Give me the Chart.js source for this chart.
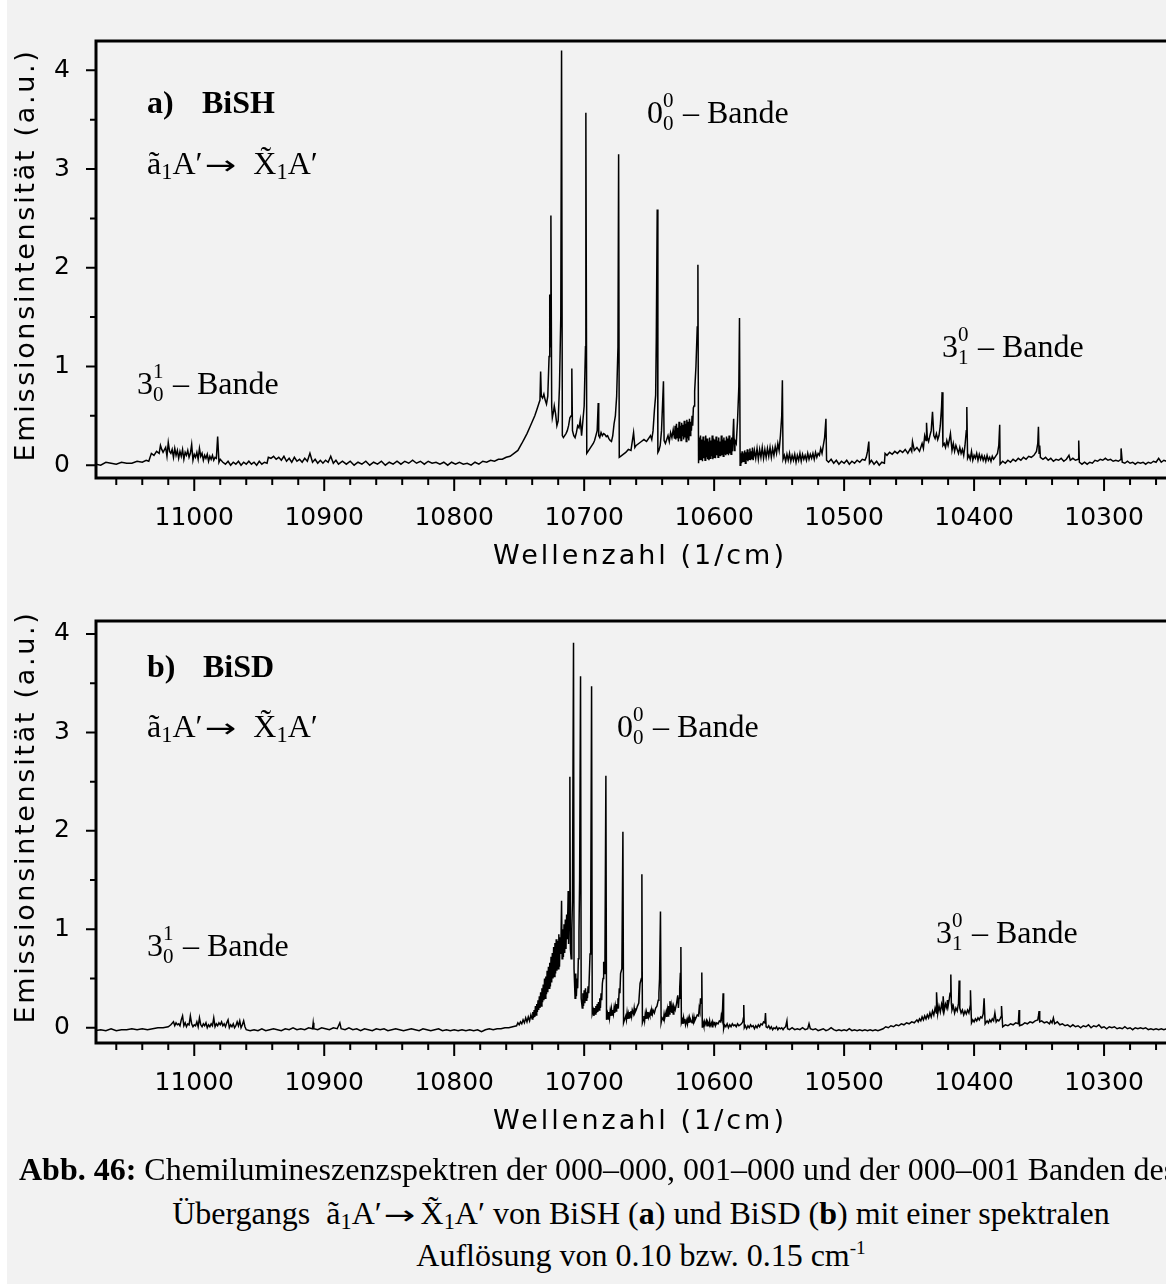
<!DOCTYPE html>
<html>
<head>
<meta charset="utf-8">
<script src="https://cdn.jsdelivr.net/npm/chart.js@4.4.1/dist/chart.umd.min.js"></script>
<style>
  html, body { margin: 0; padding: 0; background: #fff; }
  body { width: 1166px; height: 1286px; overflow: hidden; position: relative; }
  #page { position: absolute; left: 7px; top: 0; width: 1159px; height: 1284px; background: #f2f2f2; }
  .plot { position: absolute; left: 0; }
  .ann { position: absolute; font-family: 'Liberation Serif', 'Times New Roman', serif; font-size: 32px; line-height: 32px; white-space: nowrap; color: #000; }
  .ann sub, .cap sub { font-size: 0.7em; vertical-align: -0.22em; line-height: 0; }
  .arr { display: inline-block; font-family: 'DejaVu Sans', sans-serif; font-size: 26px; transform: scaleX(1.45); margin: 0 22px 0 7px; }
  .st { position: relative; display: inline-block; width: 12px; height: 0; }
  .st span { position: absolute; left: 0; font-size: 21px; line-height: 20px; }
  .st .sp { top: -33px; }
  .st .sb { top: -10px; }
  .ytitle { position: absolute; width: 460px; height: 34px; line-height: 34px; text-align: center; transform: rotate(-90deg);
            font-family: 'DejaVu Sans', sans-serif; font-size: 27px; letter-spacing: 2.7px; color: #000; white-space: nowrap; }
  .xtitle { position: absolute; width: 600px; height: 34px; line-height: 34px; text-align: center;
            font-family: 'DejaVu Sans', sans-serif; font-size: 27px; letter-spacing: 3px; color: #000; white-space: nowrap; }
  .cap { position: absolute; font-family: 'Liberation Serif', 'Times New Roman', serif; font-size: 32px; line-height: 32px; white-space: nowrap; color: #000; }
  .cap sup { font-size: 0.6em; vertical-align: 0.6em; line-height: 0; }
</style>
</head>
<body>
<div id="page"></div>
<canvas id="chartA" class="plot" width="1190" height="580" style="top:0"></canvas>
<canvas id="chartB" class="plot" width="1190" height="580" style="top:580px"></canvas>

<div class="ytitle" style="left:-205px;top:238px">Emissionsintensität (a.u.)</div>
<div class="xtitle" style="left:340px;top:538px">Wellenzahl (1/cm)</div>
<div class="ytitle" style="left:-205px;top:800px">Emissionsintensität (a.u.)</div>
<div class="xtitle" style="left:340px;top:1103px">Wellenzahl (1/cm)</div>

<div class="ann" style="left:147px;top:86px;font-weight:bold">a)</div>
<div class="ann" style="left:202px;top:86px;font-weight:bold">BiSH</div>
<div class="ann" style="left:147px;top:147px">ã<sub>1</sub>A′<span class="arr">→</span>X̃<sub>1</sub>A′</div>
<div class="ann" style="left:647px;top:96px">0<span class="st"><span class="sp">0</span><span class="sb">0</span></span> – Bande</div>
<div class="ann" style="left:137px;top:367px">3<span class="st"><span class="sp">1</span><span class="sb">0</span></span> – Bande</div>
<div class="ann" style="left:942px;top:330px">3<span class="st"><span class="sp">0</span><span class="sb">1</span></span> – Bande</div>

<div class="ann" style="left:147px;top:650px;font-weight:bold">b)</div>
<div class="ann" style="left:203px;top:650px;font-weight:bold">BiSD</div>
<div class="ann" style="left:147px;top:710px">ã<sub>1</sub>A′<span class="arr">→</span>X̃<sub>1</sub>A′</div>
<div class="ann" style="left:617px;top:710px">0<span class="st"><span class="sp">0</span><span class="sb">0</span></span> – Bande</div>
<div class="ann" style="left:147px;top:929px">3<span class="st"><span class="sp">1</span><span class="sb">0</span></span> – Bande</div>
<div class="ann" style="left:936px;top:916px">3<span class="st"><span class="sp">0</span><span class="sb">1</span></span> – Bande</div>

<div class="cap" style="left:19px;top:1153px"><b>Abb. 46:</b> Chemilumineszenzspektren der 000–000, 001–000 und der 000–001 Banden des</div>
<div class="cap" style="left:141px;width:1000px;text-align:center;top:1197px">Übergangs &nbsp;ã<sub>1</sub>A′<span class="arr" style="margin-right:10px">→</span>X̃<sub>1</sub>A′ von BiSH (<b>a</b>) und BiSD (<b>b</b>) mit einer spektralen</div>
<div class="cap" style="left:141px;width:1000px;text-align:center;top:1239px">Auflösung von 0.10 bzw. 0.15 cm<sup>-1</sup></div>

<script>
// wavenumber range shown (axis is reversed: high values on the left)
const xRange = [10238.5, 11075.6];
const xMajorStep = 100;
const xMinorStep = 20;
const yMajorStep = 1;
const yMinorStep = 0.5;

// ---- BiSH spectrum, [wavenumber, intensity] ----
// 3_0^1 band and flat region
const bishLow = [
  [11076,0.01],[11072,0.00],[11068,0.03],[11064,0.02],[11060,0.01],[11056,0.03],[11052,0.02],[11048,0.02],
  [11044,0.04],[11040,0.03],[11037,0.05],[11035,0.04],[11033,0.12],[11031,0.10],[11029,0.14],[11027,0.12],
  [11026,0.20],[11025,0.16],[11024,0.13],[11022,0.18],[11021,0.09],[11020,0.23],[11019,0.14],[11018,0.12],
  [11017,0.16],[11016,0.08],[11015,0.17],[11014,0.10],[11013,0.15],[11012,0.07],[11011,0.14],[11010,0.09],
  [11009,0.16],[11008,0.06],[11007,0.13],[11006,0.10],[11005,0.15],[11004,0.08],[11003,0.12],[11002,0.21],
  [11001,0.05],[11000,0.11],[10999,0.08],[10998,0.13],[10997,0.06],[10996,0.17],[10995,0.09],[10994,0.12],
  [10993,0.05],[10992,0.10],[10991,0.07],[10990,0.11],[10989,0.04],[10988,0.09],[10987,0.06],[10986,0.10],
  [10985,0.05],[10984,0.08],[10983,0.07],[10982,0.29],[10981,0.03],[10980,0.06],[10978,0.03],[10976,0.01],
  [10974,0.04],[10972,0.00],[10970,0.03],[10968,0.01],[10966,0.04],[10964,0.00],[10962,0.03],[10960,0.01],
  [10958,0.04],[10956,0.01],[10954,0.03],[10952,0.00],[10950,0.04],[10948,0.01],[10946,0.03],[10944,0.02],
  [10943,0.08],[10941,0.07],[10939,0.09],[10937,0.06],[10935,0.08],[10933,0.05],[10931,0.09],[10929,0.04],
  [10927,0.07],[10925,0.03],[10923,0.08],[10921,0.04],[10919,0.06],[10917,0.03],[10915,0.07],[10913,0.04],
  [10911,0.12],[10909,0.03],[10907,0.06],[10905,0.02],[10903,0.05],[10901,0.02],[10899,0.05],[10897,0.03],
  [10895,0.09],[10893,0.02],[10891,0.05],[10889,0.01],[10886,0.04],[10883,0.01],[10880,0.04],[10877,0.00],
  [10874,0.03],[10871,0.01],[10868,0.04],[10865,0.00],[10862,0.03],[10859,0.01],[10856,0.04],[10853,0.00],
  [10850,0.03],[10847,0.01],[10844,0.04],[10841,0.01],[10838,0.04],[10835,0.02],[10832,0.05],[10829,0.02],
  [10826,0.04],[10823,0.01],[10820,0.04],[10817,0.02],[10814,0.03],[10811,0.01],[10808,0.03],[10805,0.00],
  [10802,0.03],[10799,0.01],[10796,0.03],[10793,0.01],[10790,0.02],[10787,0.00],[10784,0.03],[10781,0.01],
  [10778,0.04]
];
// 0_0^0 band
const bishMain = [
  [10775,0.03],[10772,0.05],[10769,0.04],[10766,0.06],[10763,0.06],[10760,0.08],[10757,0.09],[10754,0.12],
  [10751,0.15],[10748,0.22],[10746,0.27],[10744,0.32],[10742,0.38],[10740,0.44],[10738,0.50],[10736.5,0.56],
  [10735,0.62],[10734,0.66],[10733.5,0.95],[10733,0.70],[10732,0.68],[10731,0.72],[10730,0.66],[10729,0.62],
  [10728,0.70],[10727,1.10],[10726.5,1.73],[10726,1.20],[10725.6,2.53],[10725,0.60],[10724.5,0.48],[10723.5,0.55],
  [10723,0.60],[10722,0.52],[10721,0.40],[10720,0.45],[10719,0.80],[10718,1.50],[10717.4,4.20],[10716.8,0.30],
  [10716,0.28],[10715,0.30],[10714,0.32],[10713,0.35],[10712,0.40],[10711,0.48],[10710,0.50],[10709.5,0.98],
  [10709,0.35],[10708,0.30],[10707,0.28],[10706,0.33],[10705,0.40],[10704,0.38],[10703,0.46],[10702,0.30],
  [10701,0.45],[10700,0.60],[10699,1.20],[10698.7,3.57],[10698,0.12],[10697,0.14],[10696,0.16],[10695,0.18],
  [10694,0.20],[10693,0.22],[10692,0.25],[10691,0.30],[10690,0.35],[10689.2,0.63],[10688.8,0.30],[10688,0.28],
  [10687,0.33],[10686,0.30],[10685,0.32],[10684,0.31],[10683,0.29],[10682,0.30],[10681,0.27],[10680,0.25],
  [10679,0.24],[10678,0.30],[10677,0.42],[10676,0.50],[10675,0.70],[10674,1.20],[10673.5,3.15],[10673,0.08],
  [10672,0.09],[10670,0.11],[10668,0.13],[10666,0.16],[10664,0.15],[10662,0.33],[10661,0.18],[10660,0.20],
  [10658,0.22],[10656,0.24],[10654,0.26],[10652,0.24],[10650,0.28],[10649,0.30],[10648,0.26],[10647,0.35],
  [10646,0.55],[10645,0.71],[10644.5,1.30],[10643.8,2.59],[10643.3,0.13],[10642.5,0.15],[10641.5,0.20],[10640.5,0.35],
  [10639,0.85],[10638.5,0.25],[10637.5,0.22],[10636.5,0.26],[10635.5,0.30],[10634.5,0.24],[10633.5,0.33],[10632.5,0.28],
  [10631.5,0.36],[10630.5,0.27],[10630,0.40],[10629.5,0.26],[10629,0.42],[10628.5,0.28],[10628,0.38],[10627.5,0.24],
  [10627,0.44],[10626.5,0.27],[10626,0.40],[10625.5,0.25],[10625,0.43],[10624.5,0.30],[10624,0.41],[10623.5,0.26],
  [10623,0.45],[10622.5,0.28],[10622,0.42],[10621.5,0.24],[10621,0.46],[10620.5,0.27],[10620,0.44],[10619.5,0.25],
  [10619,0.47],[10618.5,0.30],[10618,0.44],[10617.5,0.35],[10617,0.50],[10616.5,0.40],[10616,0.58],[10615.5,0.60],
  [10615,0.75],[10614,1.00],[10613,1.40],[10612.5,2.03],[10612,0.02],[10611.5,0.28],[10611,0.05],[10610.5,0.30],
  [10610,0.06],[10609.5,0.26],[10609,0.04],[10608.5,0.29],[10608,0.07],[10607.5,0.25],[10607,0.05],[10606.5,0.30],
  [10606,0.08],[10605.5,0.27],[10605,0.06],[10604.5,0.24],[10604,0.05],[10603.5,0.28],[10603,0.07],[10602.5,0.25],
  [10602,0.09],[10601.5,0.30],[10601,0.06],[10600.5,0.27],[10600,0.08],[10599.5,0.26],[10599,0.07],[10598.5,0.29],
  [10598,0.10],[10597.5,0.25],[10597,0.08],[10596.5,0.28],[10596,0.10],[10595.5,0.24],[10595,0.09],[10594.5,0.30],
  [10594,0.10],[10593.5,0.26],[10593,0.09],[10592.5,0.28],[10592,0.11],[10591.5,0.25],[10591,0.10],[10590.5,0.29],
  [10590,0.12],[10589.5,0.27],[10589,0.10],[10588.5,0.30],[10588,0.12],[10587.5,0.26],[10587,0.11],[10586.5,0.28],
  [10586,0.14],[10585,0.47],[10584.5,0.15],[10584,0.25],[10583,0.22],[10582,0.45],[10581,0.80],[10580.5,1.49],
  [10580,0.00],[10579.5,0.12],[10579,0.02],[10578.5,0.14],[10578,0.03],[10577.5,0.12],[10577,0.04],[10576.5,0.15],
  [10576,0.02],[10575.5,0.13],[10575,0.05],[10574.5,0.16],[10574,0.04],[10573.5,0.13],[10573,0.06],[10572.5,0.17],
  [10572,0.05],[10571.5,0.14],[10571,0.06],[10570.5,0.18],[10570,0.05],[10569,0.15],[10568,0.07],[10567,0.17],
  [10566,0.06],[10565,0.16],[10564,0.08],[10563,0.18],[10562,0.07],[10561,0.16],[10560,0.08],[10559,0.17],
  [10558,0.09],[10557,0.18],[10556,0.08],[10555,0.17],[10554,0.10],[10553,0.19],[10552,0.12],[10551,0.22],
  [10550,0.15],[10549,0.30],[10548,0.50]
];
// 3_1^0 band and right tail
const bishTail = [
  [10547.5,0.86],[10547,0.06],[10546,0.10],[10545,0.04],[10544,0.11],[10543,0.05],[10542,0.12],[10541,0.04],
  [10540,0.10],[10539,0.05],[10538,0.11],[10537,0.03],[10536,0.10],[10535,0.05],[10534,0.12],[10533,0.04],
  [10532,0.11],[10531,0.06],[10530,0.10],[10529,0.05],[10528,0.12],[10527,0.06],[10526,0.11],[10525,0.07],
  [10524,0.12],[10523,0.06],[10522,0.13],[10521,0.08],[10520,0.12],[10519,0.10],[10518,0.17],[10517,0.12],
  [10516,0.20],[10515,0.28],[10514,0.47],[10513.5,0.05],[10512,0.03],[10510,0.06],[10508,0.02],[10506,0.05],
  [10504,0.01],[10502,0.04],[10500,0.02],[10498,0.05],[10496,0.01],[10494,0.04],[10492,0.02],[10490,0.05],
  [10488,0.03],[10486,0.06],[10484,0.05],[10483,0.08],[10482,0.14],[10481,0.24],[10480.5,0.02],[10479,0.05],
  [10477,0.01],[10475,0.04],[10473,0.00],[10471,0.03],[10469,0.02],[10468.5,0.12],[10467,0.10],[10465,0.13],
  [10463,0.11],[10461,0.14],[10459,0.12],[10457,0.15],[10455,0.13],[10453,0.16],[10451,0.12],[10449,0.17],
  [10448,0.14],[10447.4,0.24],[10446,0.15],[10444,0.18],[10442,0.14],[10440,0.22],[10439,0.17],[10438,0.30],
  [10437,0.25],[10436.6,0.43],[10436,0.28],[10435,0.24],[10434,0.30],[10433,0.35],[10432,0.54],[10431,0.30],
  [10430,0.27],[10429,0.32],[10428,0.26],[10427,0.30],[10426,0.40],[10425,0.60],[10424.6,0.74],[10424,0.20],
  [10423,0.22],[10422,0.18],[10421,0.25],[10420,0.20],[10419,0.26],[10418.2,0.32],[10417,0.15],[10416,0.22],
  [10415,0.14],[10414,0.20],[10413,0.16],[10412,0.12],[10411,0.18],[10410,0.12],[10409,0.16],[10408,0.10],
  [10407,0.20],[10406,0.35],[10405.6,0.59],[10405,0.07],[10404,0.10],[10403,0.06],[10402,0.14],[10401,0.05],
  [10400,0.10],[10399,0.07],[10398,0.12],[10397,0.05],[10396,0.11],[10395,0.06],[10394,0.10],[10393,0.05],
  [10392,0.09],[10391,0.04],[10390,0.10],[10389,0.05],[10388,0.08],[10387,0.04],[10386,0.09],[10385,0.06],
  [10384,0.08],[10383,0.10],[10382,0.12],[10381,0.20],[10380.3,0.41],[10380,0.01],[10378,0.04],[10376,0.02],
  [10374,0.05],[10372,0.03],[10370,0.06],[10368,0.04],[10366,0.07],[10364,0.05],[10362,0.08],[10360,0.06],
  [10358,0.09],[10356,0.08],[10354,0.10],[10352,0.14],[10351,0.22],[10350.5,0.39],[10350,0.12],[10349.5,0.20],
  [10349,0.08],[10347,0.06],[10345,0.08],[10343,0.05],[10341,0.07],[10339,0.04],[10337,0.06],[10335,0.05],
  [10333,0.07],[10331,0.04],[10329,0.06],[10327,0.10],[10326,0.05],[10324,0.07],[10322,0.05],[10320,0.06],
  [10319.5,0.25],[10319,0.03],[10317,0.01],[10315,0.03],[10313,0.01],[10311,0.03],[10309,0.02],[10307,0.05],
  [10305,0.04],[10303,0.06],[10301,0.05],[10299,0.07],[10297,0.05],[10295,0.06],[10293,0.04],[10291,0.05],
  [10289,0.04],[10287,0.06],[10286.9,0.17],[10286,0.03],[10284,0.02],[10282,0.04],[10280,0.02],[10278,0.03],
  [10276,0.01],[10274,0.03],[10272,0.02],[10270,0.03],[10268,0.01],[10266,0.03],[10264,0.02],[10262,0.04],
  [10260,0.03],[10258,0.07],[10256,0.03],[10254,0.05],[10252,0.04],[10250,0.03],[10246,0.05],[10242,0.03],
  [10238,0.04]
];

// ---- BiSD spectrum, [wavenumber, intensity] ----
const bisdLow = [
  [11076,-0.03],[11072,-0.02],[11068,-0.03],[11064,-0.01],[11060,-0.03],[11056,-0.02],[11052,-0.02],[11048,-0.01],
  [11044,-0.02],[11040,-0.01],[11036,-0.02],[11032,-0.01],[11028,0.00],[11024,0.00],[11020,0.01],[11018,0.03],
  [11016,0.06],[11015,0.02],[11014,0.05],[11013,0.03],[11012,0.04],[11011,0.02],[11010,0.08],[11009,0.12],
  [11008,0.02],[11007,0.05],[11006,0.01],[11005,0.04],[11004,0.03],[11003,0.12],[11002,0.04],[11001,0.01],
  [11000,0.03],[10999,0.02],[10998,0.06],[10997,0.01],[10996,0.10],[10995,0.03],[10994,0.01],[10993,0.04],
  [10992,0.02],[10991,0.05],[10990,0.00],[10989,0.03],[10988,0.01],[10987,0.04],[10986,0.02],[10985,0.10],
  [10984,0.01],[10983,0.04],[10982,0.02],[10981,0.05],[10980,0.03],[10979,0.06],[10978,0.02],[10977,0.04],
  [10976,0.01],[10975,0.05],[10974,0.08],[10973,0.00],[10972,0.03],[10971,0.01],[10970,0.04],[10969,0.00],
  [10968,0.02],[10967,0.06],[10966,0.02],[10965,0.07],[10964,0.00],[10963,0.03],[10962,0.07],[10961,0.01],
  [10960,-0.02],[10957,-0.03],[10954,-0.02],[10951,-0.03],[10948,-0.01],[10945,-0.03],[10942,-0.02],[10939,-0.01],
  [10936,-0.02],[10933,-0.03],[10930,-0.01],[10927,-0.02],[10924,0.00],[10921,-0.02],[10918,-0.01],[10915,-0.02],
  [10912,0.00],[10909,-0.01],[10908.5,0.05],[10908,-0.01],[10905,-0.02],[10902,0.00],[10899,-0.01],[10896,-0.02],
  [10893,0.00],[10890,-0.01],[10888,0.05],[10887,-0.01],[10884,-0.02],[10881,0.00],[10878,-0.02],[10875,-0.01],
  [10872,-0.03],[10869,-0.01],[10866,-0.02],[10863,-0.03],[10860,-0.01],[10857,-0.02],[10854,-0.01],[10851,-0.03],
  [10848,-0.02],[10845,-0.01],[10842,-0.02],[10839,-0.03],[10836,-0.02],[10833,-0.01],[10830,-0.02],[10827,-0.03],
  [10824,-0.01],[10821,-0.02],[10818,-0.03],[10815,-0.02],[10812,-0.01],[10809,-0.03],[10806,-0.02],[10803,-0.03],
  [10800,-0.02],[10797,-0.03],[10794,-0.02],[10791,-0.03],[10788,-0.02],[10785,-0.03],[10782,-0.02],[10779,-0.04],
  [10776,-0.02],[10773,-0.01],[10770,-0.02],[10767,-0.01],[10764,-0.01],[10761,0.00],[10758,0.00],[10755,0.01]
];
const bisdMain = [
  [10752,0.02],[10751,0.05],[10750,0.03],[10749,0.06],[10748,0.04],[10747,0.08],[10746,0.05],[10745,0.10],
  [10744,0.06],[10743,0.11],[10742,0.07],[10741,0.13],[10740,0.09],[10739.5,0.16],[10739,0.10],[10738.5,0.18],
  [10738,0.11],[10737.5,0.22],[10737,0.13],[10736.5,0.24],[10736,0.16],[10735.5,0.28],[10735,0.18],[10734.5,0.32],
  [10734,0.20],[10733.5,0.36],[10733,0.22],[10732.5,0.40],[10732,0.26],[10731.5,0.44],[10731,0.28],[10730.5,0.50],
  [10730,0.30],[10729.5,0.52],[10729,0.34],[10728.5,0.58],[10728,0.36],[10727.5,0.62],[10727,0.40],[10726.5,0.66],
  [10726,0.42],[10725.5,0.72],[10725,0.46],[10724.5,0.76],[10724,0.50],[10723.5,0.82],[10723,0.52],[10722.5,0.86],
  [10722,0.55],[10721.5,0.90],[10721,0.58],[10720.5,0.88],[10720,0.60],[10719.5,0.95],[10719,0.62],[10718.5,0.92],
  [10718,0.75],[10717.4,1.29],[10717,0.70],[10716.5,1.00],[10716,0.72],[10715.5,1.05],[10715,0.76],[10714.5,1.10],
  [10714,0.80],[10713.5,1.15],[10713,0.90],[10712.3,1.39],[10712,0.85],[10711.5,1.20],[10711,2.55],[10710.6,0.80],
  [10710,0.70],[10709.5,1.00],[10709,1.30],[10708.2,3.91],[10707.8,0.60],[10707,0.30],[10706.5,0.55],[10706,0.32],
  [10705.5,0.50],[10705,0.40],[10704.5,0.70],[10704,0.97],[10703.5,1.50],[10702.8,3.57],[10702.3,0.30],[10701.5,0.20],
  [10701,0.35],[10700.5,0.22],[10700,0.38],[10699.5,0.25],[10699,0.40],[10698.5,0.28],[10698,0.36],[10697.5,0.30],
  [10697,0.42],[10696.5,0.35],[10696,0.55],[10695.5,0.75],[10695,0.95],[10694.3,3.47],[10693.8,0.14],[10693,0.18],
  [10692.5,0.12],[10692,0.20],[10691.5,0.14],[10691,0.22],[10690.5,0.15],[10690,0.24],[10689.5,0.16],[10689,0.26],
  [10688.5,0.18],[10688,0.30],[10687.5,0.20],[10687,0.35],[10686.5,0.28],[10686,0.45],[10685.5,0.50],[10685,0.67],
  [10684.5,0.55],[10684,0.72],[10683.3,2.56],[10682.8,0.08],[10682,0.14],[10681.5,0.09],[10681,0.16],[10680.5,0.10],
  [10680,0.17],[10679.5,0.12],[10679,0.19],[10678.5,0.13],[10678,0.18],[10677.5,0.14],[10677,0.20],[10676.5,0.15],
  [10676,0.22],[10675.5,0.17],[10675,0.24],[10674.5,0.20],[10674,0.30],[10673.5,0.26],[10673,0.40],[10672.5,0.35],
  [10672,0.55],[10671,0.60],[10670.2,1.99],[10669.7,0.05],[10669,0.08],[10668,0.12],[10667.5,0.08],[10667,0.15],
  [10666.5,0.09],[10666,0.14],[10665.5,0.10],[10665,0.16],[10664.5,0.11],[10664,0.17],[10663.5,0.12],[10663,0.18],
  [10662,0.14],[10661.5,0.20],[10661,0.15],[10660,0.18],[10659,0.22],[10658,0.25],[10657.5,0.35],[10657,0.45],
  [10656,0.50],[10655.6,1.56],[10655.2,0.05],[10654.5,0.08],[10654,0.12],[10653.5,0.07],[10653,0.14],[10652.5,0.09],
  [10652,0.15],[10651.5,0.10],[10651,0.16],[10650.5,0.11],[10650,0.14],[10649.5,0.12],[10649,0.16],[10648.5,0.13],
  [10648,0.17],[10647.5,0.14],[10647,0.18],[10646,0.15],[10645,0.20],[10644,0.22],[10643,0.28],[10642.5,0.35],
  [10642,0.50],[10641.3,1.18],[10640.8,0.05],[10640,0.10],[10639,0.08],[10638.5,0.14],[10638,0.10],[10637,0.16],
  [10636.5,0.11],[10636,0.18],[10635.5,0.12],[10635,0.22],[10634.5,0.14],[10634,0.27],[10633.5,0.16],[10633,0.22],
  [10632.5,0.15],[10632,0.20],[10631.5,0.14],[10631,0.22],[10630,0.18],[10629,0.24],[10628,0.33],[10627.5,0.20],
  [10627,0.30],[10626.5,0.40],[10626,0.55],[10625.6,0.82],[10625.2,0.05],[10624.5,0.08],[10624,0.04],[10623.5,0.10],
  [10623,0.05],[10622.5,0.09],[10622,0.03],[10621,0.08],[10620.5,0.04],[10620,0.09],[10619.5,0.05],[10619,0.10],
  [10618.5,0.06],[10618,0.08],[10617,0.05],[10616.5,0.09],[10616,0.06],[10615.5,0.11],[10615,0.07],[10614,0.10],
  [10613,0.13],[10612,0.12],[10611.5,0.20],[10611,0.17],[10610.5,0.30],[10610,0.25],[10609.5,0.56],[10609.1,0.00],
  [10608.5,0.05],[10608,0.02],[10607.5,0.06],[10607,0.03],[10606,0.07],[10605.5,0.02],[10605,0.06],[10604,0.03],
  [10603.5,0.07],[10603,0.02],[10602,0.05],[10601.5,0.01],[10601,0.06],[10600,0.03],[10599.5,0.06],[10599,0.02],
  [10598,0.05],[10597,0.04],[10596,0.07],[10595,0.06],[10594.5,0.12],[10594,0.09],[10593.5,0.20],[10593.1,0.35],
  [10592.7,-0.01],[10592,0.03],[10591,0.01],[10590,0.04],[10589,0.00],[10588,0.03],[10587,0.01],[10586,0.04],
  [10585,0.02],[10584,0.03],[10583,0.01],[10582,0.04],[10581,0.02],[10580,0.03],[10579,0.04],[10578,0.06],
  [10577.5,0.10],[10577.2,0.23],[10576.8,0.00],[10576,0.02],[10575,-0.01],[10574,0.02],[10573,0.00],[10572,0.03],
  [10571,0.01],[10570,0.02],[10569,-0.01],[10568,0.02],[10567,0.00],[10566,0.03],[10565,0.01],[10564,0.04],
  [10563,0.03],[10562,0.06],[10561,0.05],[10560.5,0.15],[10560,0.01],[10559,0.00],[10558,0.02],[10557,-0.01],
  [10556,0.01],[10555,-0.02],[10554,0.00],[10553,-0.01],[10552,0.01],[10551,-0.02],[10550,0.00],[10549,-0.01]
];
const bisdTail = [
  [10548,0.00],[10547,-0.02],[10546,0.00],[10545,0.01],[10544,0.07],[10543.5,-0.01],[10542,-0.02],[10540,0.00],
  [10538,-0.02],[10536,-0.01],[10534,-0.02],[10532,0.00],[10530,-0.02],[10528,-0.01],[10527,0.04],[10526,-0.01],
  [10524,-0.02],[10522,-0.01],[10520,-0.03],[10518,-0.02],[10516,-0.01],[10514,-0.03],[10512,-0.02],[10510,0.00],
  [10508,-0.02],[10506,-0.03],[10504,-0.02],[10502,-0.03],[10500,-0.02],[10498,-0.03],[10496,-0.01],[10494,-0.03],
  [10492,-0.02],[10490,-0.03],[10488,-0.02],[10486,-0.03],[10484,-0.02],[10482,-0.03],[10480,-0.02],[10478,-0.03],
  [10476,-0.02],[10474,-0.03],[10472,-0.02],[10470,-0.01],[10468,0.01],[10466,0.00],[10464,0.02],[10462,0.01],
  [10460,0.03],[10458,0.02],[10456,0.04],[10454,0.03],[10452,0.05],[10450,0.04],[10448,0.06],[10446,0.05],
  [10444,0.08],[10443,0.06],[10442,0.09],[10441,0.07],[10440,0.11],[10439,0.08],[10438,0.12],[10437,0.09],
  [10436,0.13],[10435,0.10],[10434,0.15],[10433,0.11],[10432,0.17],[10431,0.13],[10430,0.20],[10429,0.15],
  [10428.9,0.36],[10428,0.14],[10427,0.22],[10426,0.16],[10425,0.24],[10424,0.18],[10423.8,0.32],[10423,0.17],
  [10422,0.24],[10421,0.20],[10420.5,0.28],[10420,0.22],[10419,0.30],[10418.5,0.35],[10417.9,0.54],[10417.5,0.25],
  [10417,0.18],[10416,0.22],[10415,0.15],[10414,0.20],[10413,0.17],[10412,0.25],[10411.5,0.48],[10411,0.20],
  [10410,0.15],[10409,0.18],[10408,0.13],[10407,0.17],[10406,0.14],[10405,0.18],[10404,0.15],[10403,0.22],
  [10402.8,0.38],[10402,0.05],[10401,0.08],[10400,0.06],[10399,0.09],[10398,0.07],[10397,0.10],[10396,0.08],
  [10395,0.11],[10394,0.10],[10393,0.14],[10392.3,0.30],[10391.5,0.04],[10390,0.07],[10389,0.05],[10388,0.08],
  [10387,0.06],[10386,0.09],[10385,0.07],[10384,0.15],[10383,0.06],[10382,0.08],[10381,0.07],[10380,0.09],
  [10379,0.12],[10378.9,0.22],[10378,0.01],[10376,0.03],[10374,0.02],[10372,0.04],[10370,0.03],[10368,0.05],
  [10366,0.04],[10365.4,0.18],[10365,0.02],[10363,0.03],[10361,0.05],[10359,0.04],[10357,0.06],[10355,0.05],
  [10353,0.07],[10351,0.08],[10350.5,0.12],[10350,0.17],[10349.5,0.06],[10348,0.07],[10346,0.05],[10344,0.06],
  [10342,0.04],[10341,0.07],[10340,0.05],[10339,0.10],[10338,0.04],[10336,0.06],[10334,0.03],[10332,0.04],
  [10330,0.02],[10328,0.03],[10326,0.01],[10324,0.03],[10322,0.01],[10320,0.02],[10318,0.00],[10316,0.02],
  [10314,0.01],[10312,0.03],[10310,0.00],[10308,0.02],[10306,0.01],[10304,0.03],[10302,0.00],[10300,0.01],
  [10298,-0.01],[10296,0.01],[10294,0.00],[10292,0.01],[10290,-0.01],[10288,0.00],[10286,-0.01],[10284,0.01],
  [10282,-0.01],[10280,0.00],[10278,-0.02],[10276,0.00],[10274,-0.01],[10272,0.00],[10270,-0.01],[10268,0.00],
  [10266,-0.02],[10264,-0.01],[10262,-0.02],[10260,-0.01],[10258,-0.02],[10256,-0.01],[10254,-0.02],[10252,-0.01],
  [10250,-0.02],[10246,-0.01],[10242,-0.02],[10238,-0.01]
];

const bishSpectrum = [...bishLow, ...bishMain, ...bishTail];
const bisdSpectrum = [...bisdLow, ...bisdMain, ...bisdTail];

// --- frame and tick marks drawn from the chart scales ---
const frameTicks = {
  id: 'frameTicks',
  afterDatasetsDraw(chart) {
    const { ctx, chartArea: a, scales: { x, y } } = chart;
    ctx.save();
    ctx.strokeStyle = '#000';
    ctx.lineWidth = 2;
    ctx.beginPath();
    for (let v = Math.ceil(x.min / xMinorStep) * xMinorStep; v <= x.max; v += xMinorStep) {
      const px = x.getPixelForValue(v);
      const len = v % xMajorStep === 0 ? 13 : 7;
      ctx.moveTo(px, a.bottom);
      ctx.lineTo(px, a.bottom + len);
    }
    for (let v = Math.ceil(y.min / yMinorStep) * yMinorStep; v <= y.max; v += yMinorStep) {
      const py = y.getPixelForValue(v);
      const len = Math.abs(v % yMajorStep) < 1e-9 ? 10 : 6;
      ctx.moveTo(a.left, py);
      ctx.lineTo(a.left - len, py);
    }
    ctx.stroke();
    ctx.lineWidth = 3;
    ctx.strokeRect(a.left, a.top, a.right - a.left, a.bottom - a.top);
    ctx.restore();
  }
};

const tickFont = { family: 'DejaVu Sans', size: 25 };

const makePanel = (id, points, yMin, yMax, padTop, xAxisHeight) => {
  const ctx = document.getElementById(id);
  return new Chart(ctx, {
    type: 'line',
    data: {
      datasets: [{
        data: points.map(([wn, v]) => ({ x: wn, y: v })),
        borderColor: '#000',
        borderWidth: 1.5,
        pointRadius: 0,
        tension: 0,
        fill: false
      }]
    },
    options: {
      responsive: false,
      animation: false,
      events: [],
      layout: { padding: { top: padTop, right: 6, left: 0, bottom: 0 } },
      plugins: { legend: { display: false }, tooltip: { enabled: false } },
      scales: {
        x: {
          type: 'linear',
          reverse: true,
          min: xRange[0],
          max: xRange[1],
          grid: { display: false, drawTicks: false },
          border: { display: false },
          ticks: {
            stepSize: xMajorStep, includeBounds: false, autoSkip: false, maxRotation: 0,
            padding: 25, color: '#000', font: tickFont,
            callback: v => String(v)
          },
          afterFit: s => { s.height = xAxisHeight; }
        },
        y: {
          type: 'linear',
          min: yMin,
          max: yMax,
          grid: { display: false, drawTicks: false },
          border: { display: false },
          ticks: {
            stepSize: yMajorStep, includeBounds: false,
            padding: 26, color: '#000', font: tickFont,
            callback: v => String(v)
          },
          afterFit: s => { s.width = 96; }
        }
      }
    },
    plugins: [frameTicks]
  });
};

makePanel('chartA', bishSpectrum, -0.1296, 4.297, 34, 102);
makePanel('chartB', bisdSpectrum, -0.155, 4.132, 21, 117);
</script>
</body>
</html>
